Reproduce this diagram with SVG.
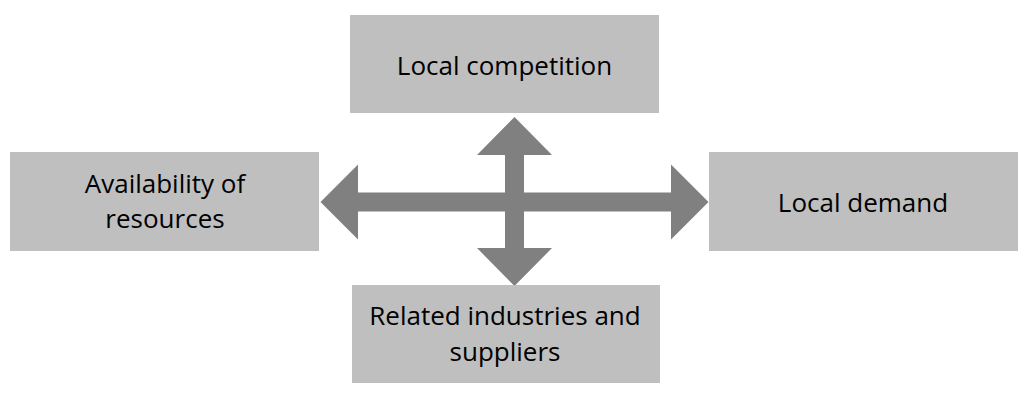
<svg xmlns="http://www.w3.org/2000/svg" width="1030" height="402" viewBox="0 0 1030 402">
<style>
.box{fill:#bfbfbf}
.arr{fill:#808080}
text{font-family:"Open Sans","Liberation Sans",sans-serif;font-size:26px;fill:#000;text-anchor:middle}
</style>
<rect width="1030" height="402" fill="#fff"/>
<g id="connectors">
<path class="arr" d="M320.5,202 L358,164.5 L358,192.5 L671,192.5 L671,164.5 L708.5,202 L671,239.5 L671,211.5 L358,211.5 L358,239.5 Z"/>
<path class="arr" d="M514.5,117 L552,155 L524,155 L524,248 L552,248 L514.5,286 L477,248 L505,248 L505,155 L477,155 Z"/>
</g>
<g id="node-top">
<rect class="box" x="350" y="15" width="309" height="98"/>
<text x="504.5" y="75">Local competition</text>
</g>
<g id="node-left">
<rect class="box" x="10" y="152" width="309" height="99"/>
<text x="165" y="193">Availability of</text>
<text x="165" y="228">resources</text>
</g>
<g id="node-right">
<rect class="box" x="709" y="152" width="309" height="99"/>
<text x="863" y="211.5">Local demand</text>
</g>
<g id="node-bottom">
<rect class="box" x="352" y="285" width="308" height="98"/>
<text x="505" y="325">Related industries and</text>
<text x="505" y="361">suppliers</text>
</g>
</svg>
